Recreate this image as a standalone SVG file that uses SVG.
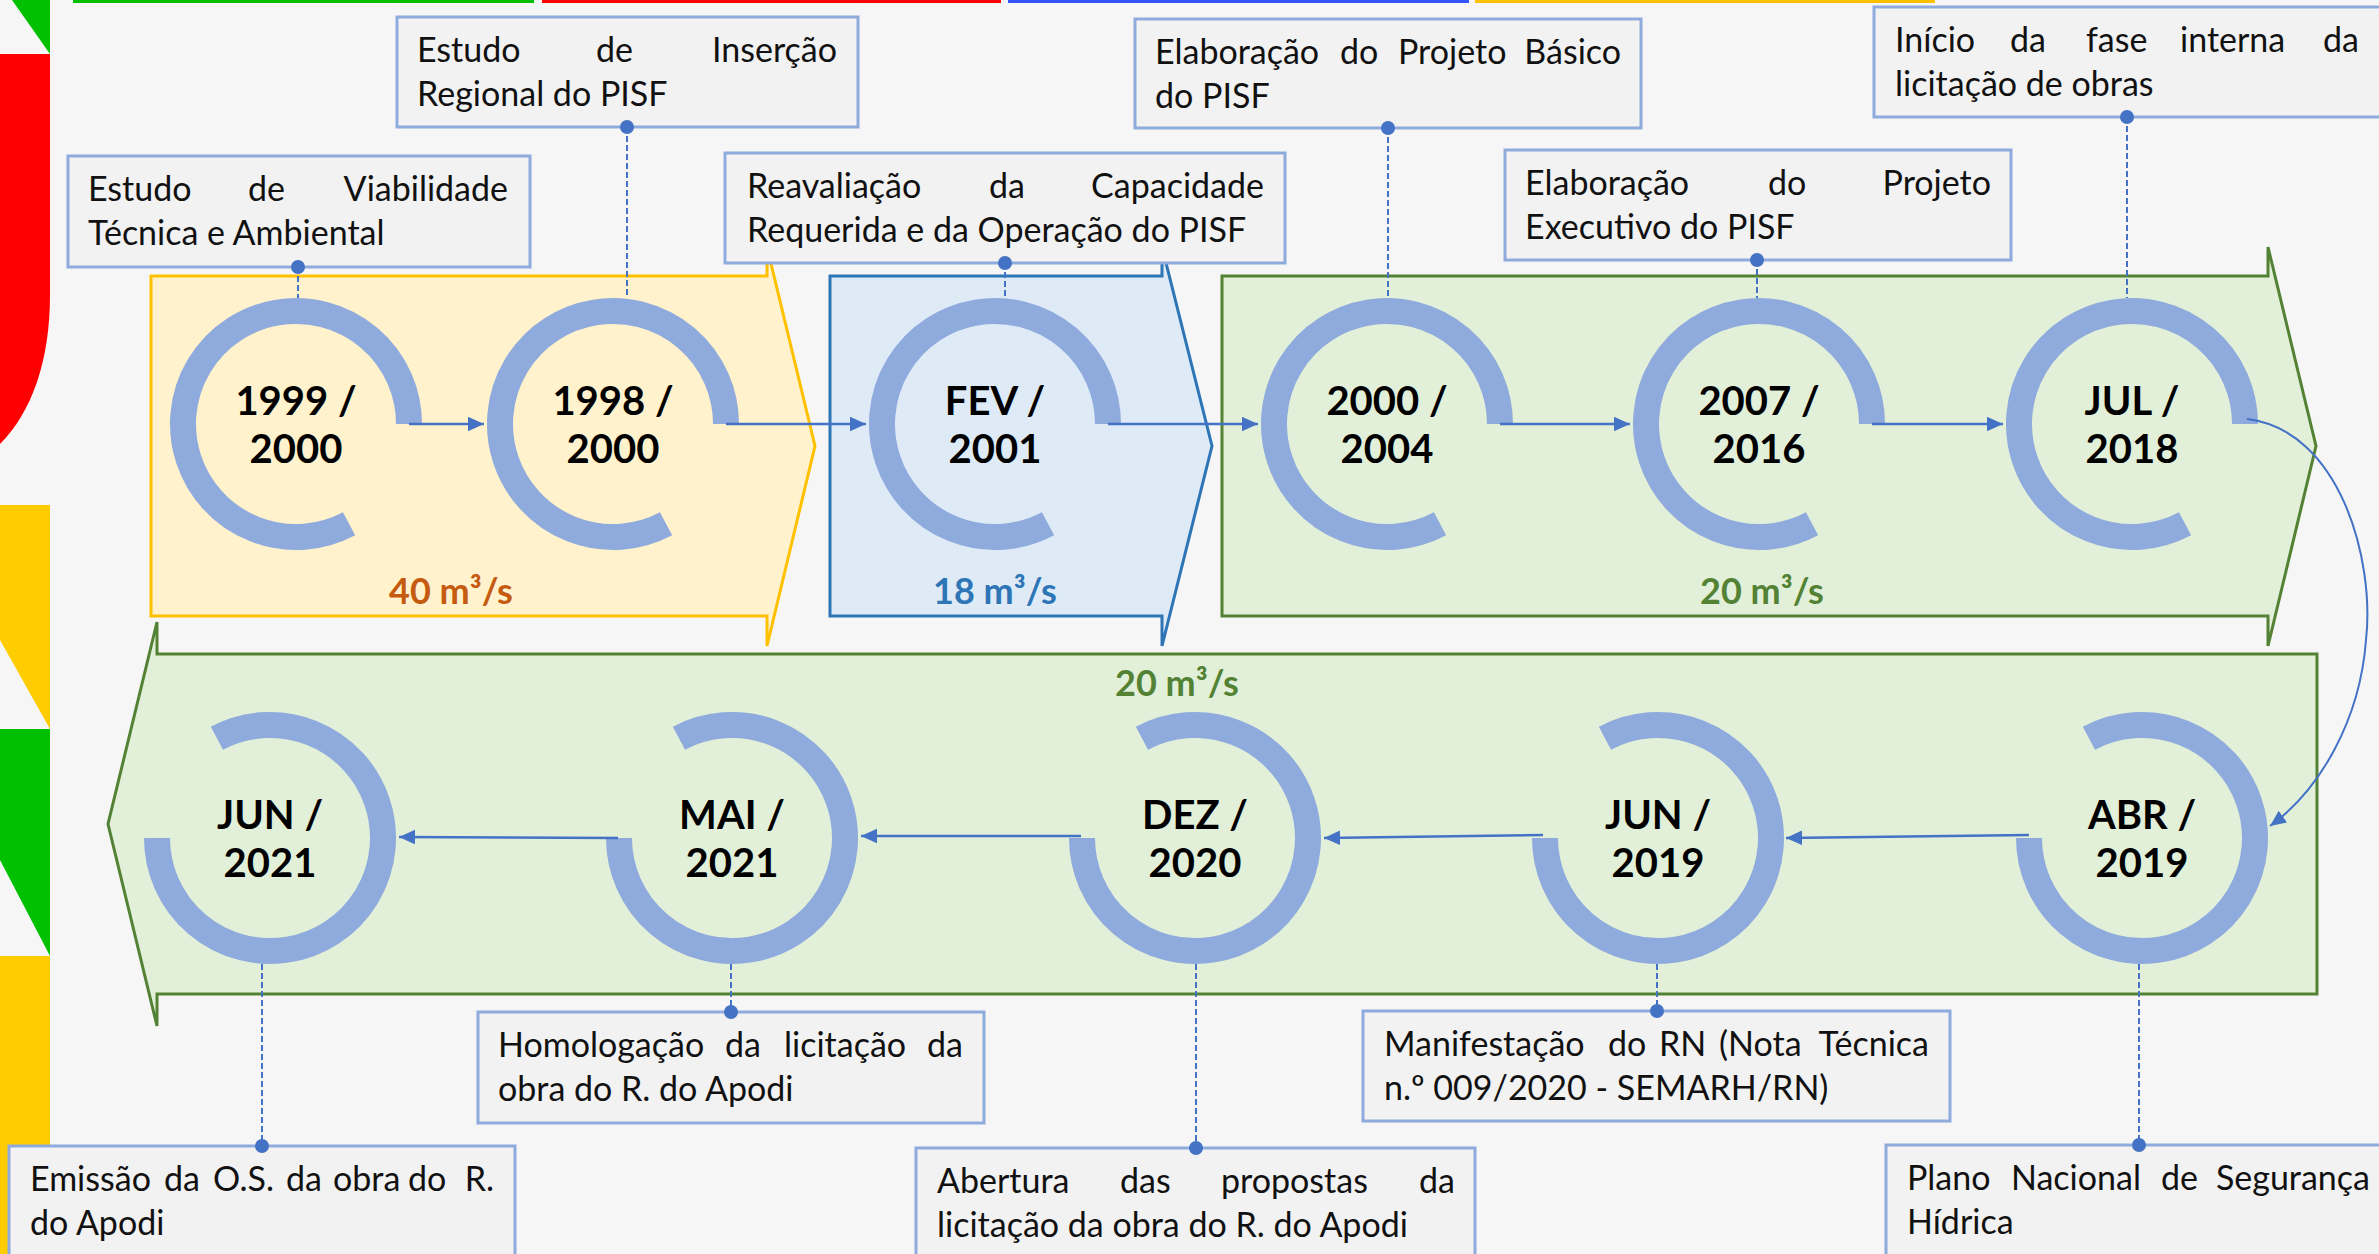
<svg xmlns="http://www.w3.org/2000/svg" width="2379" height="1254" viewBox="0 0 2379 1254">
<defs>
<style>
.box{fill:#f2f2f2;stroke:#8faadc;stroke-width:3}
.t{font-family:Lato,"Open Sans","Liberation Sans",sans-serif;font-size:34px;fill:#111}
.e{text-anchor:end}
.yr{font-family:Lato,"Open Sans","Liberation Sans",sans-serif;font-weight:700;font-size:40px;fill:#000;text-anchor:middle}
.fl{font-family:Lato,"Open Sans","Liberation Sans",sans-serif;font-weight:700;font-size:36px;text-anchor:middle}
.ring{fill:none;stroke:#8faadc;stroke-width:26}
.dash{stroke:#4472c4;stroke-width:2;stroke-dasharray:6 3;fill:none}
.dot{fill:#4472c4}
.conn{stroke:#4472c4;stroke-width:2.5;fill:none;marker-end:url(#ah)}
.big{stroke-width:3}
</style>
<marker id="ah" markerUnits="userSpaceOnUse" markerWidth="16" markerHeight="15" refX="16" refY="7.25" orient="auto">
<path d="M0,0 L16,7.25 L0,14.5 Z" fill="#4472c4"/>
</marker>
</defs>
<rect x="0" y="0" width="2379" height="1254" fill="#f6f6f6"/>

<g id="decor">
<rect x="73" y="0" width="461" height="3" fill="#00c000"/>
<rect x="542" y="0" width="459" height="3" fill="#ff0000"/>
<rect x="1008" y="0" width="461" height="3" fill="#3355ff"/>
<rect x="1475" y="0" width="460" height="3" fill="#ffc000"/>
<polygon points="12,0 50,0 50,54" fill="#00c000"/>
<path d="M0,54 H50 V295 C50,360 32,412 0,444 Z" fill="#ff0000"/>
<rect x="0" y="505" width="50" height="224" fill="#ffcc00"/>
<polygon points="0,640 50,729 0,729" fill="#f6f6f6"/>
<rect x="0" y="729" width="50" height="227" fill="#00c000"/>
<polygon points="0,860 50,956 0,956" fill="#f6f6f6"/>
<rect x="0" y="956" width="50" height="298" fill="#ffcc00"/>
</g>

<g id="phases">
<polygon class="big" points="151,276 767,276 767,247 815,446 767,646 767,616 151,616" fill="#fff2cc" stroke="#ffc000"/>
<polygon class="big" points="830,276 1162,276 1162,247 1212,446 1162,646 1162,616 830,616" fill="#deebf7" stroke="#2e75b6"/>
<polygon class="big" points="1222,276 2268,276 2268,247 2316,446 2268,646 2268,616 1222,616" fill="#e2f0d9" stroke="#548235"/>
<polygon class="big" points="2317,654 157,654 157,622 108,824 157,1026 157,994 2317,994" fill="#e2f0d9" stroke="#548235"/>
<text class="fl" x="451" y="604" fill="#c55a11">40 m³/s</text>
<text class="fl" x="995" y="604" fill="#2e75b6">18 m³/s</text>
<text class="fl" x="1762" y="604" fill="#548235">20 m³/s</text>
<text class="fl" x="1177" y="696" fill="#548235">20 m³/s</text>
</g>

<g id="leaders">
<line class="dash" x1="298" y1="267" x2="298" y2="298"/>
<line class="dash" x1="627" y1="127" x2="627" y2="298"/>
<line class="dash" x1="1005" y1="263" x2="1005" y2="298"/>
<line class="dash" x1="1388" y1="128" x2="1388" y2="298"/>
<line class="dash" x1="1757" y1="260" x2="1757" y2="298"/>
<line class="dash" x1="2127" y1="117" x2="2127" y2="298"/>
<line class="dash" x1="262" y1="964" x2="262" y2="1146"/>
<line class="dash" x1="731" y1="964" x2="731" y2="1012"/>
<line class="dash" x1="1196" y1="964" x2="1196" y2="1148"/>
<line class="dash" x1="1657" y1="964" x2="1657" y2="1011"/>
<line class="dash" x1="2139" y1="964" x2="2139" y2="1145"/>
</g>

<g id="n1"><path class="ring" d="M409,424 A113,113 0 1 0 349.05,523.77"/><text class="yr" x="296" y="415">1999 /</text><text class="yr" x="296" y="463">2000</text></g>
<g id="n2"><path class="ring" d="M726,424 A113,113 0 1 0 666.05,523.77"/><text class="yr" x="613" y="415">1998 /</text><text class="yr" x="613" y="463">2000</text></g>
<g id="n3"><path class="ring" d="M1108,424 A113,113 0 1 0 1048.05,523.77"/><text class="yr" x="995" y="415">FEV /</text><text class="yr" x="995" y="463">2001</text></g>
<g id="n4"><path class="ring" d="M1500,424 A113,113 0 1 0 1440.05,523.77"/><text class="yr" x="1387" y="415">2000 /</text><text class="yr" x="1387" y="463">2004</text></g>
<g id="n5"><path class="ring" d="M1872,424 A113,113 0 1 0 1812.05,523.77"/><text class="yr" x="1759" y="415">2007 /</text><text class="yr" x="1759" y="463">2016</text></g>
<g id="n6"><path class="ring" d="M2245,424 A113,113 0 1 0 2185.05,523.77"/><text class="yr" x="2132" y="415">JUL /</text><text class="yr" x="2132" y="463">2018</text></g>
<g id="n7"><path class="ring" d="M2029,838 A113,113 0 1 0 2088.95,738.23"/><text class="yr" x="2142" y="829">ABR /</text><text class="yr" x="2142" y="877">2019</text></g>
<g id="n8"><path class="ring" d="M1545,838 A113,113 0 1 0 1604.95,738.23"/><text class="yr" x="1658" y="829">JUN /</text><text class="yr" x="1658" y="877">2019</text></g>
<g id="n9"><path class="ring" d="M1082,838 A113,113 0 1 0 1141.95,738.23"/><text class="yr" x="1195" y="829">DEZ /</text><text class="yr" x="1195" y="877">2020</text></g>
<g id="n10"><path class="ring" d="M619,838 A113,113 0 1 0 678.95,738.23"/><text class="yr" x="732" y="829">MAI /</text><text class="yr" x="732" y="877">2021</text></g>
<g id="n11"><path class="ring" d="M157,838 A113,113 0 1 0 216.95,738.23"/><text class="yr" x="270" y="829">JUN /</text><text class="yr" x="270" y="877">2021</text></g>

<g id="connectors">
<line class="conn" x1="409" y1="424" x2="484" y2="424"/>
<line class="conn" x1="726" y1="424" x2="866" y2="424"/>
<line class="conn" x1="1108" y1="424" x2="1258" y2="424"/>
<line class="conn" x1="1500" y1="424" x2="1630" y2="424"/>
<line class="conn" x1="1872" y1="424" x2="2003" y2="424"/>
<path class="conn" style="stroke-width:2" d="M2247,419 C2340,430 2375,560 2366,640 C2360,720 2320,790 2270,826"/>
<line class="conn" x1="2029" y1="835" x2="1786" y2="838"/>
<line class="conn" x1="1543" y1="835" x2="1324" y2="838"/>
<line class="conn" x1="1081" y1="836" x2="861" y2="836"/>
<line class="conn" x1="618" y1="838" x2="399" y2="837"/>
</g>

<g id="b1"><rect class="box" x="68" y="156" width="462" height="111"/>
<text class="t" y="201"><tspan x="88">Estudo</tspan><tspan x="248">de</tspan><tspan x="508" class="e">Viabilidade</tspan></text>
<text class="t" x="88" y="245">Técnica e Ambiental</text><circle class="dot" cx="298" cy="267" r="7"/></g>

<g id="b2"><rect class="box" x="397" y="17" width="461" height="110"/>
<text class="t" y="62"><tspan x="417">Estudo</tspan><tspan x="596">de</tspan><tspan x="837" class="e">Inserção</tspan></text>
<text class="t" x="417" y="106">Regional do PISF</text><circle class="dot" cx="627" cy="127" r="7"/></g>

<g id="b3"><rect class="box" x="725" y="153" width="560" height="110"/>
<text class="t" y="198"><tspan x="747">Reavaliação</tspan><tspan x="989">da</tspan><tspan x="1264" class="e">Capacidade</tspan></text>
<text class="t" x="747" y="242">Requerida e da Operação do PISF</text><circle class="dot" cx="1005" cy="263" r="7"/></g>

<g id="b4"><rect class="box" x="1135" y="19" width="506" height="109"/>
<text class="t" y="64"><tspan x="1155">Elaboração</tspan><tspan x="1340">do</tspan><tspan x="1398">Projeto</tspan><tspan x="1621" class="e">Básico</tspan></text>
<text class="t" x="1155" y="108">do PISF</text><circle class="dot" cx="1388" cy="128" r="7"/></g>

<g id="b5"><rect class="box" x="1505" y="150" width="506" height="110"/>
<text class="t" y="195"><tspan x="1525">Elaboração</tspan><tspan x="1768">do</tspan><tspan x="1991" class="e">Projeto</tspan></text>
<text class="t" x="1525" y="239">Executivo do PISF</text><circle class="dot" cx="1757" cy="260" r="7"/></g>

<g id="b6"><rect class="box" x="1874" y="7" width="520" height="110"/>
<text class="t" y="52"><tspan x="1895">Início</tspan><tspan x="2010">da</tspan><tspan x="2086">fase</tspan><tspan x="2180">interna</tspan><tspan x="2359" class="e">da</tspan></text>
<text class="t" x="1895" y="96">licitação de obras</text><circle class="dot" cx="2127" cy="117" r="7"/></g>

<g id="b7"><rect class="box" x="478" y="1012" width="506" height="111"/>
<text class="t" y="1057"><tspan x="498">Homologação</tspan><tspan x="725">da</tspan><tspan x="784">licitação</tspan><tspan x="963" class="e">da</tspan></text>
<text class="t" x="498" y="1101">obra do R. do Apodi</text><circle class="dot" cx="731" cy="1012" r="7"/></g>

<g id="b8"><rect class="box" x="9" y="1146" width="506" height="120"/>
<text class="t" y="1191"><tspan x="30">Emissão</tspan><tspan x="164">da</tspan><tspan x="213">O.S.</tspan><tspan x="286">da</tspan><tspan x="333">obra</tspan><tspan x="408">do</tspan><tspan x="494" class="e">R.</tspan></text>
<text class="t" x="30" y="1235">do Apodi</text><circle class="dot" cx="262" cy="1146" r="7"/></g>

<g id="b9"><rect class="box" x="916" y="1148" width="559" height="120"/>
<text class="t" y="1193"><tspan x="937">Abertura</tspan><tspan x="1120">das</tspan><tspan x="1221">propostas</tspan><tspan x="1455" class="e">da</tspan></text>
<text class="t" x="937" y="1237">licitação da obra do R. do Apodi</text><circle class="dot" cx="1196" cy="1148" r="7"/></g>

<g id="b10"><rect class="box" x="1363" y="1011" width="587" height="110"/>
<text class="t" y="1056"><tspan x="1384">Manifestação</tspan><tspan x="1608">do</tspan><tspan x="1659">RN</tspan><tspan x="1719">(Nota</tspan><tspan x="1929" class="e">Técnica</tspan></text>
<text class="t" x="1384" y="1100">n.º 009/2020 - SEMARH/RN)</text><circle class="dot" cx="1657" cy="1011" r="7"/></g>

<g id="b11"><rect class="box" x="1886" y="1145" width="510" height="120"/>
<text class="t" y="1190"><tspan x="1907">Plano</tspan><tspan x="2011">Nacional</tspan><tspan x="2161">de</tspan><tspan x="2370" class="e">Segurança</tspan></text>
<text class="t" x="1907" y="1234">Hídrica</text><circle class="dot" cx="2139" cy="1145" r="7"/></g>
</svg>
